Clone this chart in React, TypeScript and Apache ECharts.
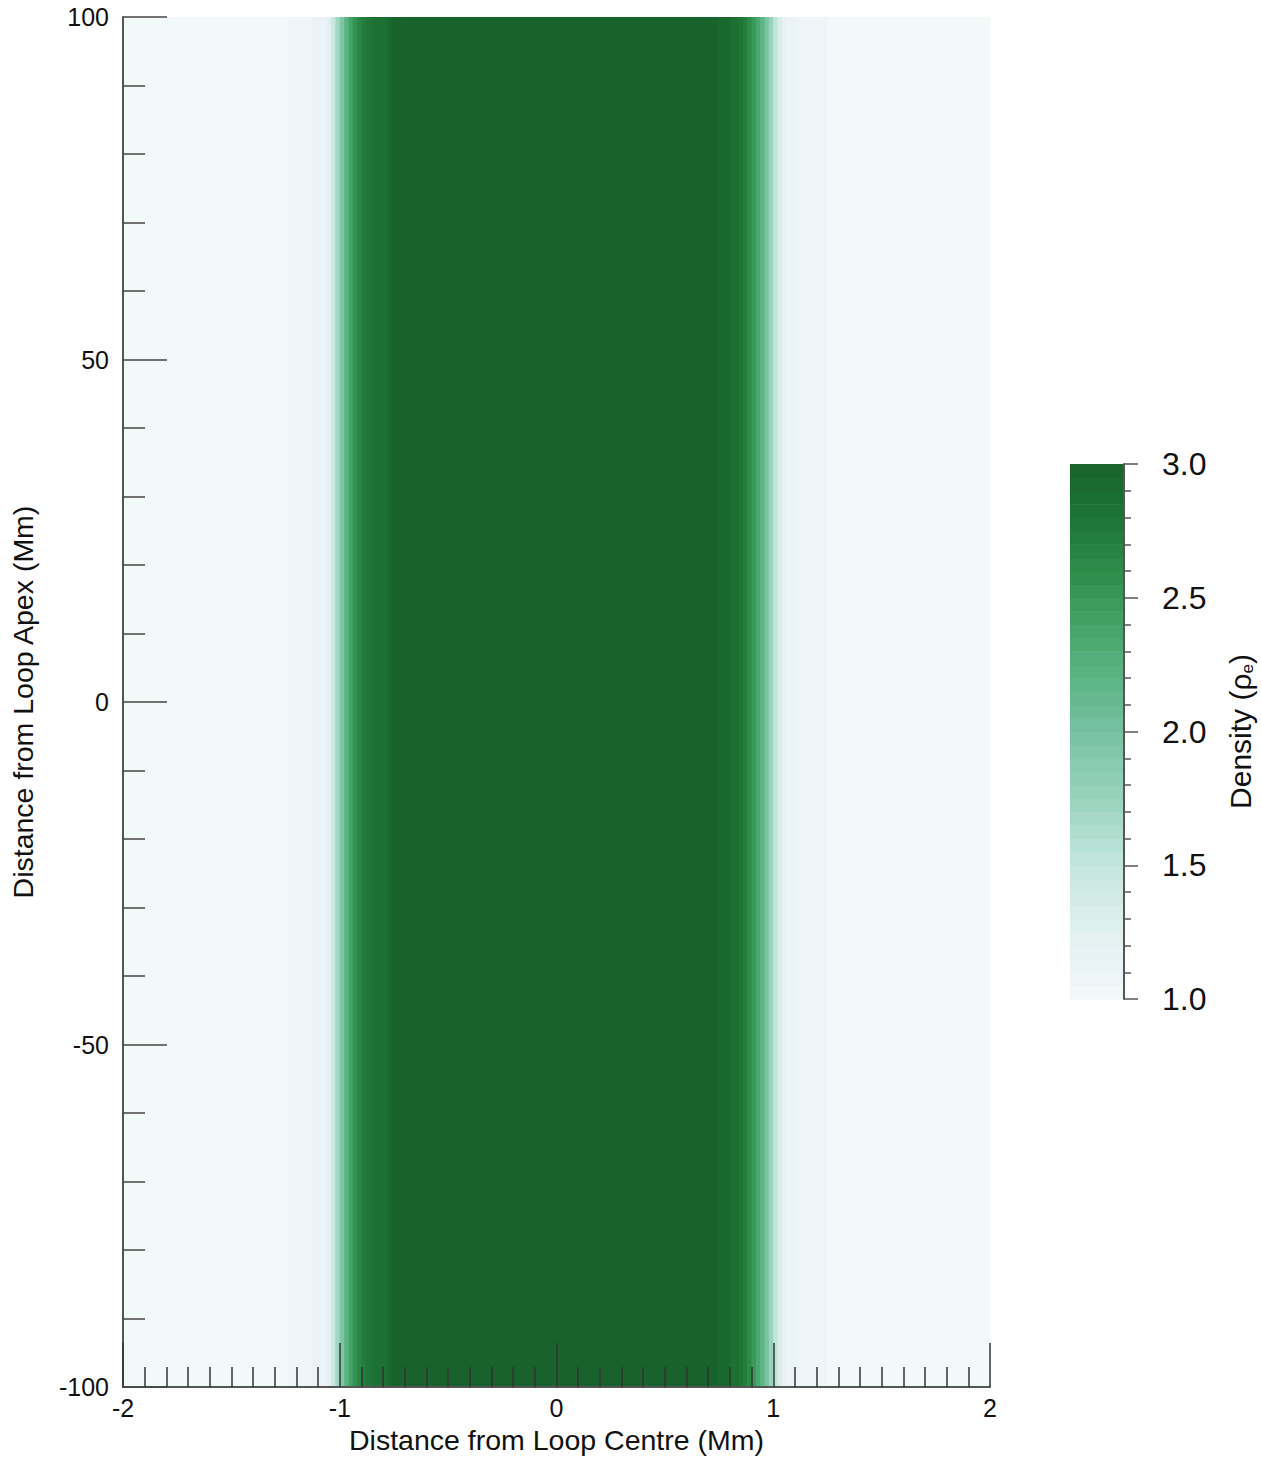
import React, { useEffect, useRef } from "react";
import * as echarts from "echarts";

// Column edges across the loop (Mm) and the density in each column (rho_e)
const profileEdges = [
  -2.0, -1.24, -1.13, -1.06, -1.04, -1.02, -1.0, -0.98, -0.96, -0.94, -0.92, -0.9, -0.88, -0.86, -0.84,
  -0.78, -0.76, 0.74, 0.8, 0.84, 0.86, 0.88, 0.9, 0.92, 0.94, 0.96, 0.98, 1.0, 1.02, 1.04, 1.06, 1.1, 1.25, 2.0,
];
const profileDensity = [
  1.0, 1.06, 1.12, 1.25, 1.45, 1.7, 1.95, 2.2, 2.4, 2.55, 2.65, 2.72, 2.78, 2.82, 2.86, 2.93, 3.0,
  2.93, 2.86, 2.8, 2.72, 2.62, 2.5, 2.35, 2.18, 1.98, 1.75, 1.52, 1.33, 1.2, 1.12, 1.06, 1.0,
];

// Vertical extent of the loop (Mm)
const apexRange = [-100, 100];

// Colour bar levels
const colorbarLevels = [
  1.0, 1.05, 1.1, 1.15, 1.2, 1.25, 1.3, 1.35, 1.4, 1.45, 1.5, 1.55, 1.6, 1.65, 1.7, 1.75, 1.8, 1.85, 1.9,
  1.95, 2.0, 2.05, 2.1, 2.15, 2.2, 2.25, 2.3, 2.35, 2.4, 2.45, 2.5, 2.55, 2.6, 2.65, 2.7, 2.75, 2.8, 2.85,
  2.9, 2.95, 3.0,
];

// Colour ramp from 1.0 to 3.0 in steps of 0.1
const rampColors = [
  "#f1f9f9", "#ecf3f9", "#e5f1f3", "#dcefec", "#d0eae4", "#c3e5dc", "#b3dfd1", "#a2d7c4",
  "#92cfb8", "#84c9ad", "#77c2a1", "#69bb93", "#5cb484", "#50ac75", "#44a467", "#399958",
  "#2e8c4a", "#24803e", "#1e7536", "#1a6c30", "#18632b",
];

const FONT = "'Liberation Sans', Arial, Helvetica, sans-serif";

export default function App() {
  const ref = useRef<HTMLDivElement>(null);

  useEffect(() => {
    document.body.style.margin = "0";
    if (!ref.current) return;
    const chart = echarts.init(ref.current, undefined, { renderer: "svg" });

    const mainData = profileDensity.map((d, i) => [profileEdges[i], profileEdges[i + 1], d]);
    const barData = colorbarLevels.slice(0, -1).map((lo, i) => {
      const hi = colorbarLevels[i + 1];
      return [lo, hi, (lo + hi) / 2];
    });

    const axisLine = { show: true, onZero: false, lineStyle: { color: "#555", width: 2 } };

    chart.setOption({
      animation: false,
      backgroundColor: "#ffffff",
      grid: [
        { left: 123, top: 17, width: 867, height: 1374 },
        { left: 1070, top: 464, width: 54, height: 535 },
      ],
      visualMap: {
        type: "continuous",
        show: false,
        min: 1,
        max: 3,
        dimension: 2,
        seriesIndex: [0, 1],
        inRange: { color: rampColors },
      },
      xAxis: [
        {
          type: "value",
          gridIndex: 0,
          min: -2,
          max: 2,
          interval: 1,
          z: 10,
          axisLine,
          axisTick: { show: true, inside: true, length: 44, lineStyle: { color: "#333", width: 1.5 } },
          minorTick: { show: true, splitNumber: 10, length: 20, lineStyle: { color: "#333", width: 1.5 } },
          splitLine: { show: false },
          axisLabel: { fontSize: 25, color: "#111", fontFamily: FONT, margin: 8 },
          name: "Distance from Loop Centre (Mm)",
          nameLocation: "middle",
          nameGap: 37,
          nameTextStyle: { fontSize: 28.5, color: "#111", fontFamily: FONT },
        },
        {
          type: "value",
          gridIndex: 1,
          min: 0,
          max: 1,
          show: false,
        },
      ],
      yAxis: [
        {
          type: "value",
          gridIndex: 0,
          min: -100,
          max: 100,
          interval: 50,
          z: 10,
          axisLine,
          axisTick: { show: true, inside: true, length: 44, lineStyle: { color: "#444", width: 1.5 } },
          minorTick: { show: true, splitNumber: 5, length: 22, lineStyle: { color: "#444", width: 1.5 } },
          splitLine: { show: false },
          axisLabel: { fontSize: 25, color: "#111", fontFamily: FONT, margin: 14 },
          name: "Distance from Loop Apex (Mm)",
          nameLocation: "middle",
          nameRotate: 90,
          nameGap: 86,
          nameTextStyle: { fontSize: 28.5, color: "#111", fontFamily: FONT },
        },
        {
          type: "value",
          gridIndex: 1,
          position: "right",
          min: 1,
          max: 3,
          interval: 0.5,
          z: 10,
          axisLine,
          axisTick: { show: true, inside: false, length: 14, lineStyle: { color: "#555", width: 1.5 } },
          minorTick: { show: true, splitNumber: 5, length: 7, lineStyle: { color: "#555", width: 1.5 } },
          splitLine: { show: false },
          axisLabel: {
            fontSize: 32,
            color: "#111",
            fontFamily: FONT,
            margin: 38,
            formatter: (v: number) => v.toFixed(1),
          },
          name: "Density (ρ{e|e})",
          nameLocation: "middle",
          nameRotate: 90,
          nameGap: 100,
          nameTextStyle: {
            fontSize: 30,
            color: "#111",
            fontFamily: FONT,
            rich: { e: { fontSize: 17, color: "#111", fontFamily: FONT, verticalAlign: "bottom", padding: [15, 0, 0, 0] } },
          },
        },
      ],
      series: [
        {
          type: "custom",
          xAxisIndex: 0,
          yAxisIndex: 0,
          data: mainData,
          clip: true,
          renderItem: (params: any, api: any) => {
            const p0 = api.coord([api.value(0), apexRange[1]]);
            const p1 = api.coord([api.value(1), apexRange[0]]);
            return {
              type: "rect",
              shape: { x: p0[0], y: p0[1], width: p1[0] - p0[0] + 0.6, height: p1[1] - p0[1] },
              style: { fill: api.visual("color"), stroke: null },
            };
          },
        },
        {
          type: "custom",
          xAxisIndex: 1,
          yAxisIndex: 1,
          data: barData,
          renderItem: (params: any, api: any) => {
            const p0 = api.coord([0, api.value(1)]);
            const p1 = api.coord([1, api.value(0)]);
            return {
              type: "rect",
              shape: { x: p0[0], y: p0[1], width: p1[0] - p0[0], height: p1[1] - p0[1] + 0.6 },
              style: { fill: api.visual("color"), stroke: null },
            };
          },
        },
      ],
    });

    return () => chart.dispose();
  }, []);

  return <div ref={ref} style={{ width: 1261, height: 1459 }} />;
}
